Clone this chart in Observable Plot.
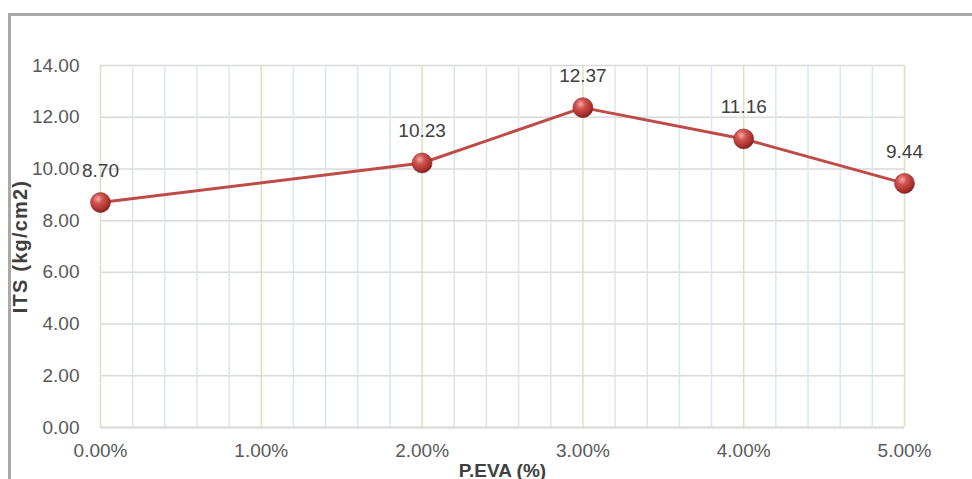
<!DOCTYPE html>
<html>
<head>
<meta charset="utf-8">
<script src="https://cdn.jsdelivr.net/npm/d3@7"></script>
<script src="https://cdn.jsdelivr.net/npm/@observablehq/plot@0.6"></script>
<style>
  html, body { margin: 0; padding: 0; background: #fff; overflow: hidden; }
  #wrap { position: relative; width: 972px; height: 479px; }
  #border { position: absolute; left: 8px; top: 13px; width: 980px; height: 480px;
            border: 3px solid #a9a9a9; box-sizing: border-box; }
  #chart { position: absolute; left: 0; top: 0; }
  svg { font-family: Arial, "Liberation Sans", sans-serif; }
</style>
</head>
<body>
<div id="wrap"><div id="border"></div><div id="chart"></div></div>
<script>
// EVA content (%) and indirect tensile strength (kg/cm2)
const evaContent = [0, 2, 3, 4, 5];
const itsValues = [8.70, 10.23, 12.37, 11.16, 9.44];

// axis ticks
const xMajorTicks = [0, 1, 2, 3, 4, 5];
const xMinorTicks = [0.2, 0.4, 0.6, 0.8, 1.2, 1.4, 1.6, 1.8, 2.2, 2.4, 2.6, 2.8,
                     3.2, 3.4, 3.6, 3.8, 4.2, 4.4, 4.6, 4.8];
const yTicks = [0, 2, 4, 6, 8, 10, 12, 14];

const rows = evaContent.map((x, i) => ({x, y: itsValues[i]}));

const plot = Plot.plot({
  width: 972,
  height: 479,
  marginLeft: 100,
  marginRight: 68,
  marginTop: 65,
  marginBottom: 52,
  style: {fontFamily: "Arial, 'Liberation Sans', sans-serif", background: "transparent", overflow: "visible"},
  x: {domain: [0, 5]},
  y: {domain: [0, 14]},
  marks: [
    Plot.ruleY(yTicks, {stroke: "#d9d9d9", strokeWidth: 1.5}),
    Plot.ruleX(xMinorTicks, {stroke: "#dbe5f1", strokeWidth: 1.5}),
    Plot.ruleX(xMajorTicks, {stroke: "#d7e4bd", strokeWidth: 1.5}),
    Plot.ruleY([0], {stroke: "#d9d9d9", strokeWidth: 2}),
    Plot.axisY({
      ticks: yTicks, tickSize: 0, tickPadding: 21, fontSize: 19, fill: "#595959",
      tickFormat: d3.format(".2f"),
      label: "ITS (kg/cm2)", labelAnchor: "center", labelArrow: "none", labelOffset: 88
    }),
    Plot.axisX({
      ticks: xMajorTicks, tickSize: 0, tickPadding: 16, fontSize: 19, fill: "#595959",
      tickFormat: d => d.toFixed(2) + "%",
      label: "P.EVA (%)", labelAnchor: "center", labelArrow: "none", labelOffset: 49
    }),
    Plot.line(rows, {x: "x", y: "y", stroke: "#be4b48", strokeWidth: 3}),
    Plot.dot(rows, {x: "x", y: "y", r: 10, fill: "url(#ball)", stroke: "#8f2f2c", strokeWidth: 0.6}),
    Plot.text(rows, {x: "x", y: "y", text: d => d.y.toFixed(2), dy: -32, fontSize: 19, fill: "#404040"})
  ]
});

// sphere shading for the markers
const defs = d3.select(plot).insert("defs", ":first-child");
const g = defs.append("radialGradient").attr("id", "ball")
  .attr("cx", "38%").attr("cy", "32%").attr("r", "70%");
g.append("stop").attr("offset", "0%").attr("stop-color", "#f4a9a6");
g.append("stop").attr("offset", "35%").attr("stop-color", "#d0534f");
g.append("stop").attr("offset", "80%").attr("stop-color", "#a8302c");
g.append("stop").attr("offset", "100%").attr("stop-color", "#7a1f1c");

// bold axis titles
d3.select(plot).selectAll("[aria-label='x-axis label'] text")
  .attr("font-weight", "bold").attr("font-size", 19).attr("fill", "#404040");
d3.select(plot).selectAll("[aria-label='y-axis label'] text")
  .attr("font-weight", "bold").attr("font-size", 20).attr("letter-spacing", 1.2).attr("fill", "#404040");

document.getElementById("chart").appendChild(plot);
</script>
</body>
</html>
